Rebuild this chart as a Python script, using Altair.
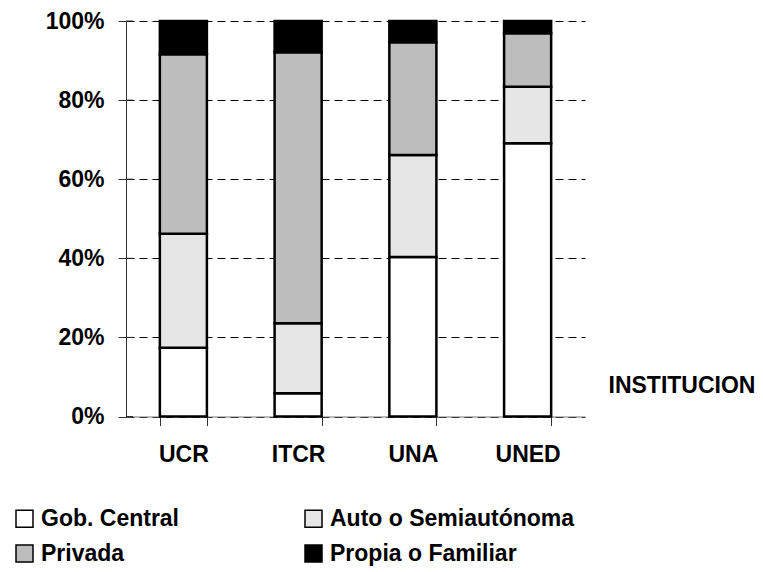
import altair as alt
import pandas as pd

instituciones = ["UCR", "ITCR", "UNA", "UNED"]
sectores = ["Gob. Central", "Auto o Semiautónoma", "Privada", "Propia o Familiar"]
gob_central = [17.4, 5.9, 40.3, 69.1]
auto_semi = [28.8, 17.7, 25.8, 14.3]
privada = [45.4, 68.5, 28.5, 13.5]
propia = [8.4, 7.9, 5.4, 3.1]
colores = ["#ffffff", "#e6e6e6", "#bdbdbd", "#000000"]
y_ticks = [0, 0.2, 0.4, 0.6, 0.8, 1.0]

series = [gob_central, auto_semi, privada, propia]
rows = []
for i, inst in enumerate(instituciones):
    for j, sec in enumerate(sectores):
        rows.append({"INSTITUCION": inst, "Sector": sec, "valor": series[j][i], "orden": j})
df = pd.DataFrame(rows)
ticks_df = pd.DataFrame({"t": y_ticks})

FONT = "Liberation Sans"

y_axis = alt.Axis(
    title=None, format=".0%", values=y_ticks,
    labelFont=FONT, labelFontSize=23, labelFontWeight="bold", labelColor="black",
    labelPadding=14, tickSize=8, tickColor="#333333", domainColor="#333333",
    grid=True, gridDash=[8, 5], gridColor="black", gridWidth=1,
)

bars = alt.Chart(df).mark_bar(stroke="black", strokeWidth=2.5).encode(
    x=alt.X(
        "INSTITUCION:N",
        sort=instituciones,
        scale=alt.Scale(paddingInner=0.59, paddingOuter=0.295),
        axis=alt.Axis(
            title="INSTITUCION",
            titleFont=FONT, titleFontSize=23, titleFontWeight="bold", titleColor="black",
            titleAlign="left", titleBaseline="middle", titleX=482, titleY=-31, titleAngle=0,
            labelAngle=0, labelFont=FONT, labelFontSize=23, labelFontWeight="bold",
            labelColor="black", labelPadding=18, labelBaseline="top",
            tickBand="extent", tickSize=9, tickColor="#333333",
            domainColor="#777777", grid=False,
        ),
    ),
    y=alt.Y(
        "valor:Q",
        stack="normalize",
        scale=alt.Scale(domain=[0, 1]),
        axis=y_axis,
    ),
    color=alt.Color(
        "Sector:N",
        sort=sectores,
        scale=alt.Scale(domain=sectores, range=colores),
        legend=alt.Legend(
            title=None, orient="none", legendX=-113, legendY=486,
            direction="horizontal",
            columns=2, columnPadding=122, rowPadding=11,
            symbolType="square", symbolSize=289, symbolStrokeColor="black",
            symbolStrokeWidth=1.5, labelOffset=5,
            labelFont=FONT, labelFontSize=23, labelFontWeight="bold", labelColor="black",
            padding=0, labelLimit=400,
        ),
    ),
    order=alt.Order("orden:Q"),
)

inner_ticks = alt.Chart(ticks_df).mark_rule(color="#333333", strokeWidth=1).encode(
    x=alt.value(0),
    x2=alt.value(7),
    y=alt.Y("t:Q", scale=alt.Scale(domain=[0, 1]), axis=y_axis),
)

chart = alt.layer(bars, inner_ticks).properties(
    width=459,
    height=395.5,
    autosize=alt.AutoSizeParams(type="none"),
    padding={"left": 118, "top": 13, "right": 170, "bottom": 155},
).configure_view(stroke=None)

chart.save("out.html", embed_options={"renderer": "svg", "actions": False})
